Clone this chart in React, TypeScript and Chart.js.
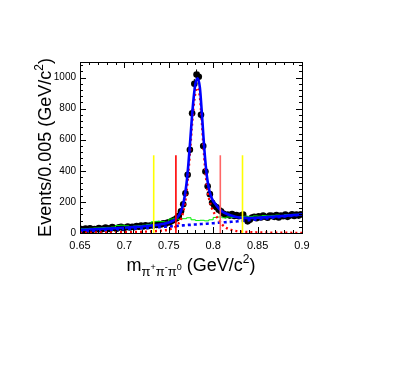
import React, { useEffect, useRef } from 'react';
import { Chart, registerables } from 'chart.js';

Chart.register(...registerables);

// ---------------- data ----------------
// measured counts, bins of 0.0025 starting at 0.65
const binStart = 0.65;
const binWidth = 0.0025;
const dataCounts = [
  25, 18, 28, 22, 30, 20, 26, 24, 32, 22,
  28, 35, 30, 26, 38, 32, 28, 36, 40, 32,
  35, 42, 36, 40, 38, 45, 40, 48, 42, 50,
  44, 48, 50, 55, 52, 58, 55, 62, 60, 68,
  70, 78, 85, 95, 110, 140, 185, 255, 375, 535,
  770, 960, 1020, 1005, 760, 560, 395, 300, 250, 195,
  175, 165, 150, 140, 125, 115, 118, 112, 122, 110,
  115, 108, 112, 118, 92, 75, 85, 100, 105, 95,
  108, 100, 112, 105, 98, 112, 110, 104, 115, 100,
  112, 108, 118, 104, 112, 120, 110, 118, 112, 120,
];

// fit curves sampled at these masses
const curveMass = [
  0.65, 0.66, 0.67, 0.68, 0.69, 0.70, 0.71, 0.72, 0.73, 0.74, 0.745, 0.75, 0.755, 0.758,
  0.76, 0.762, 0.764, 0.766, 0.768, 0.77, 0.772, 0.774, 0.776, 0.778, 0.78, 0.7825, 0.785,
  0.787, 0.789, 0.791, 0.793, 0.795, 0.797, 0.80, 0.803, 0.806, 0.81, 0.815, 0.82, 0.825,
  0.83, 0.84, 0.85, 0.86, 0.87, 0.88, 0.89, 0.90,
];
const totalFit = [
  20, 23, 25, 28, 31, 34, 38, 42, 48, 55, 60, 68, 80, 92,
  104, 120, 145, 182, 240, 320, 440, 585, 740, 870, 960, 995, 935,
  790, 620, 470, 360, 290, 245, 205, 182, 160, 138, 124, 112, 104,
  99, 96, 98, 102, 106, 110, 115, 120,
];
const signalFit = [
  2, 2, 3, 3, 4, 5, 6, 8, 10, 14, 17, 22, 32, 42,
  54, 70, 95, 130, 185, 265, 385, 530, 685, 815, 905, 935, 875,
  730, 560, 410, 300, 230, 185, 140, 112, 88, 55, 32, 20, 14,
  10, 6, 4, 3, 2, 2, 1, 1,
];
const backgroundFit = [
  12, 14, 17, 19, 22, 25, 28, 31, 35, 38, 40, 42, 44, 45,
  46, 47, 48, 49, 50, 51, 52, 52, 53, 54, 55, 56, 57,
  58, 59, 59, 60, 61, 62, 63, 64, 66, 68, 70, 72, 74,
  77, 82, 88, 94, 100, 106, 112, 118,
];

// green histogram, bins of 0.005
const histStart = 0.65;
const histWidth = 0.005;
const histCounts = [
  25, 27, 28, 30, 32, 33, 35, 36, 38, 48,
  50, 46, 42, 45, 47, 50, 55, 72, 75, 73,
  70, 90, 95, 88, 92, 98, 85, 80, 82, 78,
  85, 100, 103, 98, 103, 100, 102, 105, 108, 105,
  110, 108, 112, 110, 113, 115, 112, 118, 116, 120,
];

// vertical cut lines
const cutPositions = [0.733, 0.758, 0.808, 0.833];
const cutColors = ['#ffff00', '#ff0000', '#ff6666', '#ffff00'];
const cutHeight = 500;

const xTickValues = [0.65, 0.7, 0.75, 0.8, 0.85, 0.9];
const xTickLabels = ['0.65', '0.7', '0.75', '0.8', '0.85', '0.9'];
const yTickValues = [0, 200, 400, 600, 800, 1000];
const yTickLabels = ['0', '200', '400', '600', '800', '1000'];

const xTitle = [
  { t: 'm', s: 18, dy: 0 },
  { t: 'π', s: 13, dy: 5 },
  { t: '+', s: 9, dy: -1 },
  { t: 'π', s: 13, dy: 5 },
  { t: '-', s: 9, dy: -1 },
  { t: 'π', s: 13, dy: 5 },
  { t: '0', s: 9, dy: -1 },
  { t: ' (GeV/c', s: 18, dy: 0 },
  { t: '2', s: 12, dy: -8 },
  { t: ')', s: 18, dy: 0 },
];
const yTitle = [
  { t: 'Events/0.005 (GeV/c', s: 18, dy: 0 },
  { t: '2', s: 12, dy: -8 },
  { t: ')', s: 18, dy: 0 },
];

const FONT = '"Liberation Sans", Arial, Helvetica, sans-serif';

type Seg = { t: string; s: number; dy: number };

function drawRich(ctx: CanvasRenderingContext2D, segs: Seg[], cx: number, baseY: number) {
  let w = 0;
  for (const g of segs) {
    ctx.font = `${g.s}px ${FONT}`;
    w += ctx.measureText(g.t).width;
  }
  let x = cx - w / 2;
  ctx.textAlign = 'left';
  ctx.textBaseline = 'alphabetic';
  for (const g of segs) {
    ctx.font = `${g.s}px ${FONT}`;
    ctx.fillText(g.t, x, baseY + g.dy);
    x += ctx.measureText(g.t).width;
  }
}

const decorPlugin = {
  id: 'decor',
  beforeDatasetsDraw(chart: any) {
    const { ctx, scales } = chart;
    const x = scales.x;
    const y = scales.y;
    ctx.save();
    ctx.beginPath();
    ctx.rect(chart.chartArea.left, chart.chartArea.top, chart.chartArea.right - chart.chartArea.left, chart.chartArea.bottom - chart.chartArea.top);
    ctx.clip();
    ctx.strokeStyle = '#000';
    ctx.lineWidth = 1;
    dataCounts.forEach((c, i) => {
      const m = binStart + binWidth * (i + 0.5);
      const e = Math.sqrt(c);
      const px = x.getPixelForValue(m);
      ctx.beginPath();
      ctx.moveTo(px, y.getPixelForValue(c - e));
      ctx.lineTo(px, y.getPixelForValue(c + e));
      ctx.stroke();
    });
    ctx.restore();
  },
  afterDraw(chart: any) {
    const { ctx, chartArea: a, scales } = chart;
    const x = scales.x;
    const y = scales.y;
    ctx.save();
    ctx.strokeStyle = '#000';
    ctx.lineWidth = 1;
    ctx.strokeRect(a.left + 0.5, a.top + 0.5, a.right - a.left, a.bottom - a.top);
    const line = (x1: number, y1: number, x2: number, y2: number) => {
      ctx.beginPath();
      ctx.moveTo(x1, y1);
      ctx.lineTo(x2, y2);
      ctx.stroke();
    };
    for (let k = 0; k <= 25; k++) {
      const v = 0.65 + k * 0.01;
      const px = Math.round(x.getPixelForValue(v)) + 0.5;
      const len = k % 5 === 0 ? 6 : 3;
      line(px, a.bottom, px, a.bottom - len);
      line(px, a.top, px, a.top + len);
    }
    for (let k = 0; k * 40 <= 1100; k++) {
      const v = k * 40;
      const py = Math.round(y.getPixelForValue(v)) + 0.5;
      const len = k % 5 === 0 ? 6 : 3;
      line(a.left, py, a.left + len, py);
      line(a.right, py, a.right - len, py);
    }
    ctx.fillStyle = '#000';
    const cx = (a.left + a.right) / 2;
    drawRich(ctx, xTitle, cx, 270.5);
    const cy = (a.top + a.bottom) / 2;
    ctx.translate(51, cy);
    ctx.rotate(-Math.PI / 2);
    drawRich(ctx, yTitle, 0, 0);
    ctx.restore();
  },
};

export default function App() {
  const ref = useRef<HTMLCanvasElement | null>(null);

  useEffect(() => {
    if (!ref.current) return;
    const points = dataCounts.map((c, i) => ({ x: binStart + binWidth * (i + 0.5), y: c }));
    const curve = (arr: number[]) => arr.map((v, i) => ({ x: curveMass[i], y: v }));
    const hist = histCounts.map((c, i) => ({ x: histStart + histWidth * i, y: c }));
    hist.push({ x: histStart + histWidth * histCounts.length, y: histCounts[histCounts.length - 1] });

    const cutSets = cutPositions.map((p, i) => ({
      type: 'line' as const,
      data: [{ x: p, y: 0 }, { x: p, y: cutHeight }],
      borderColor: cutColors[i],
      borderWidth: 1.6,
      pointRadius: 0,
      fill: false,
    }));

    const chart = new Chart(ref.current, {
      type: 'line',
      data: {
        datasets: [
          ...cutSets,
          {
            data: curve(totalFit),
            borderColor: '#0000ff',
            borderWidth: 2.6,
            pointRadius: 0,
            tension: 0.3,
            cubicInterpolationMode: 'monotone',
            fill: false,
          },
          {
            data: curve(signalFit),
            borderColor: '#ff0000',
            borderWidth: 2.4,
            borderDash: [2, 3],
            pointRadius: 0,
            cubicInterpolationMode: 'monotone',
            fill: false,
          },
          {
            data: curve(backgroundFit),
            borderColor: '#0000ff',
            borderWidth: 2.6,
            borderDash: [3, 3],
            pointRadius: 0,
            cubicInterpolationMode: 'monotone',
            fill: false,
          },
          {
            data: hist,
            borderColor: '#00ee00',
            borderWidth: 1,
            pointRadius: 0,
            stepped: 'after',
            fill: false,
          },
          {
            data: points,
            showLine: false,
            pointRadius: 3.3,
            pointBackgroundColor: '#000',
            pointBorderColor: '#000',
            pointBorderWidth: 0,
          },
        ] as any,
      },
      options: {
        animation: false,
        responsive: true,
        maintainAspectRatio: false,
        events: [],
        layout: { padding: { left: 0, top: 62, right: 92, bottom: 0 } },
        plugins: { legend: { display: false }, tooltip: { enabled: false } },
        scales: {
          x: {
            type: 'linear',
            min: 0.65,
            max: 0.9,
            grid: { display: false, drawTicks: false },
            border: { display: false },
            afterBuildTicks: (s: any) => {
              s.ticks = xTickValues.map((v) => ({ value: v }));
            },
            afterFit: (s: any) => {
              s.height = 145;
            },
            ticks: {
              autoSkip: false,
              maxRotation: 0,
              padding: 6,
              color: '#000',
              font: { family: FONT, size: 11 },
              callback: (v: any) => {
                const i = xTickValues.findIndex((t) => Math.abs(t - Number(v)) < 1e-6);
                return i >= 0 ? xTickLabels[i] : '';
              },
            },
          },
          y: {
            type: 'linear',
            min: 0,
            max: 1100,
            grid: { display: false, drawTicks: false },
            border: { display: false },
            afterBuildTicks: (s: any) => {
              s.ticks = yTickValues.map((v) => ({ value: v }));
            },
            afterFit: (s: any) => {
              s.width = 80;
            },
            ticks: {
              autoSkip: false,
              padding: 4,
              color: '#000',
              font: { family: FONT, size: 10 },
              callback: (v: any) => {
                const i = yTickValues.indexOf(Number(v));
                return i >= 0 ? yTickLabels[i] : '';
              },
            },
          },
        },
      },
      plugins: [decorPlugin],
    });
    return () => chart.destroy();
  }, []);

  return (
    <div style={{ position: 'fixed', left: 0, top: 0, width: 394, height: 378, background: '#fff' }}>
      <canvas ref={ref} />
    </div>
  );
}
